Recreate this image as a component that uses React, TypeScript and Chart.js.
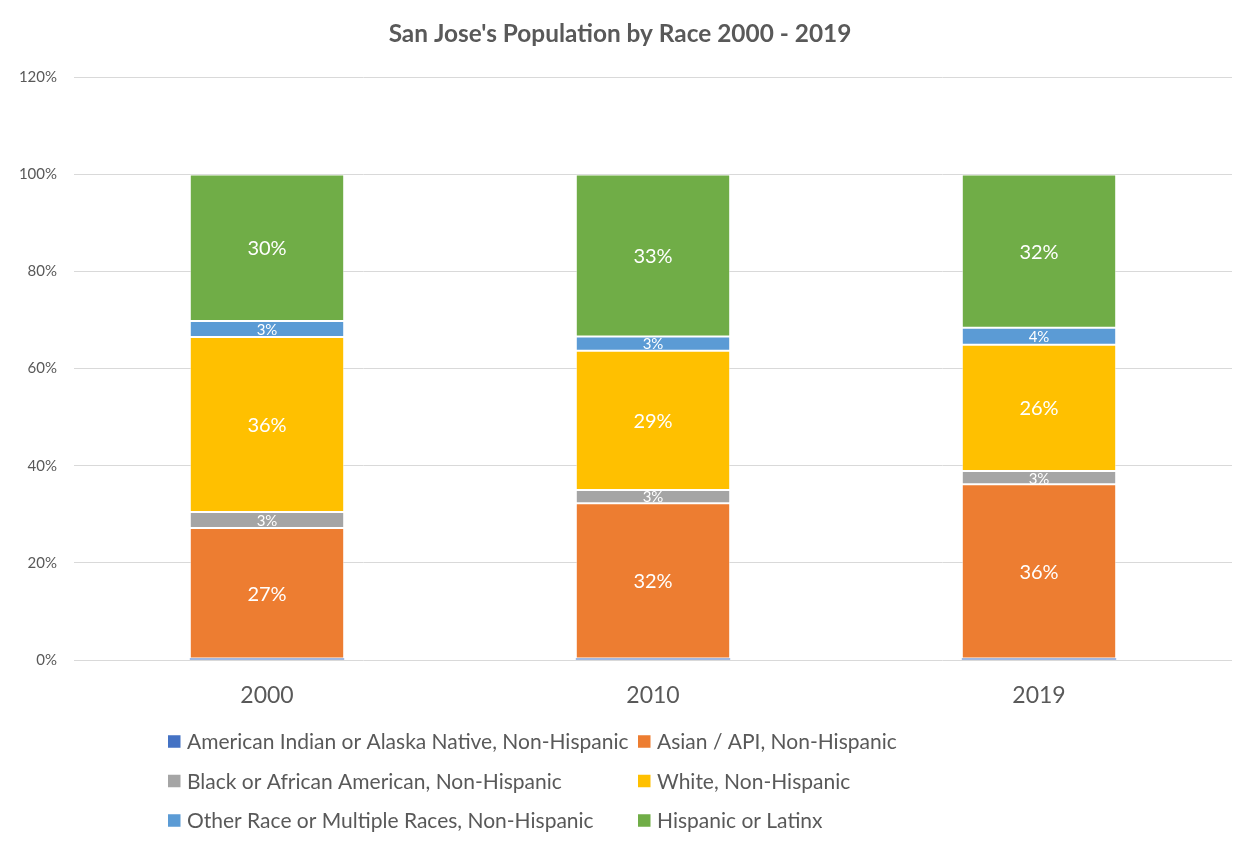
import React, { useEffect, useRef } from "react";
import { Chart, registerables } from "chart.js";

Chart.register(...registerables);

const TITLE = "San Jose's Population by Race 2000 - 2019";
const years = ["2000", "2010", "2019"];
const seriesNames = [
  "American Indian or Alaska Native, Non-Hispanic",
  "Asian / API, Non-Hispanic",
  "Black or African American, Non-Hispanic",
  "White, Non-Hispanic",
  "Other Race or Multiple Races, Non-Hispanic",
  "Hispanic or Latinx",
];
const americanIndian = [0.3, 0.3, 0.3];
const asian = [26.9, 32.0, 35.9];
const black = [3.3, 2.7, 2.7];
const white = [36.0, 28.7, 26.0];
const otherRace = [3.3, 2.9, 3.5];
const hispanic = [30.2, 33.4, 31.6];
const seriesValues = [americanIndian, asian, black, white, otherRace, hispanic];
const seriesColors = ["#4472C4", "#ED7D31", "#A5A5A5", "#FFC000", "#5B9BD5", "#70AD47"];
const yTicks = [0, 20, 40, 60, 80, 100, 120];

const FONT = "Lato";
const TEXT = "#595959";

const dataLabelPlugin = {
  id: "segLabels",
  afterDatasetsDraw(chart: any) {
    const ctx = chart.ctx;
    ctx.save();
    ctx.fillStyle = "#ffffff";
    ctx.textAlign = "center";
    ctx.textBaseline = "middle";
    chart.data.datasets.forEach((ds: any, di: number) => {
      if (di === 0) return;
      const meta = chart.getDatasetMeta(di);
      meta.data.forEach((el: any, i: number) => {
        const v = ds.data[i];
        const big = v >= 10;
        ctx.font = `${big ? 20 : 15}px ${FONT}`;
        const cy = (el.y + el.base) / 2;
        ctx.fillText(Math.round(v) + "%", el.x, cy + 1);
      });
    });
    ctx.restore();
  },
};

const gridLegendPlugin = {
  id: "gridLegend",
  afterDraw(chart: any, _args: any, opts: any) {
    const ctx = chart.ctx;
    const area = chart.chartArea;
    ctx.save();
    ctx.font = `${opts.fontSize}px ${FONT}`;
    ctx.textBaseline = "middle";
    ctx.textAlign = "left";
    chart.data.datasets.forEach((ds: any, i: number) => {
      const col = i % 2;
      const row = Math.floor(i / 2);
      const x = opts.colX[col];
      const cy = area.bottom + opts.firstRowOffset + row * opts.rowGap;
      ctx.fillStyle = ds.backgroundColor;
      ctx.fillRect(x, cy - opts.box / 2, opts.box, opts.box);
      ctx.fillStyle = TEXT;
      ctx.fillText(ds.label, x + opts.box + opts.gap, cy + 1);
    });
    ctx.restore();
  },
};

export default function App() {
  const ref = useRef<HTMLCanvasElement>(null);

  useEffect(() => {
    document.documentElement.style.overflow = "hidden";
    const canvas = ref.current!;
    const chart = new Chart(canvas, {
      type: "bar",
      data: {
        labels: years,
        datasets: seriesNames.map((name, i) => ({
          label: name,
          data: seriesValues[i],
          backgroundColor: seriesColors[i],
          borderColor: "rgba(255,255,255,0.5)",
          borderWidth: i === 0 ? 0 : 1,
          borderSkipped: false,
          barPercentage: 0.4,
          categoryPercentage: 1,
        })),
      },
      options: {
        responsive: false,
        devicePixelRatio: 1,
        animation: false,
        layout: { padding: { left: 0, right: 19, top: 0, bottom: 137 } },
        plugins: {
          legend: { display: false },
          tooltip: { enabled: false },
          title: {
            display: true,
            text: TITLE,
            color: TEXT,
            font: { family: FONT, size: 24.4, weight: "bold" },
            padding: { top: 13, bottom: 28 },
          },
          gridLegend: {
            colX: [160, 630],
            firstRowOffset: 81.5,
            rowGap: 39.5,
            box: 12.5,
            gap: 6.5,
            fontSize: 21,
          },
        } as any,
        scales: {
          x: {
            stacked: true,
            grid: { display: false, drawTicks: false },
            border: { display: false },
            ticks: { color: TEXT, font: { family: FONT, size: 23 }, padding: 22 },
            afterFit: (s: any) => {
              s.height = 48;
            },
          },
          y: {
            stacked: true,
            min: 0,
            max: 120,
            afterBuildTicks: (s: any) => {
              s.ticks = yTicks.map((v) => ({ value: v }));
            },
            grid: { color: "#D9D9D9", lineWidth: 1, drawTicks: false },
            border: { display: false },
            ticks: {
              color: TEXT,
              font: { family: FONT, size: 15 },
              padding: 17,
              callback: (v: any) => v + "%",
            },
            afterFit: (s: any) => {
              s.width = 66;
            },
          },
        },
      },
      plugins: [dataLabelPlugin, gridLegendPlugin],
    });
    return () => chart.destroy();
  }, []);

  return (
    <div
      style={{
        marginLeft: -2,
        marginTop: -3,
        width: 1245,
        height: 840,
        borderLeft: "2px solid #D9D9D9",
        borderTop: "2px solid #D9D9D9",
        boxSizing: "border-box",
      }}
    >
      <canvas ref={ref} width={1243} height={838} style={{ display: "block", width: 1243, height: 838 }} />
    </div>
  );
}
